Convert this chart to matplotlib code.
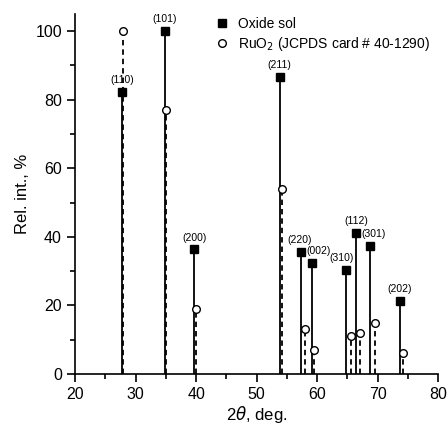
import numpy as np
import matplotlib.pyplot as plt
from matplotlib.ticker import MultipleLocator

plt.rcParams['font.family'] = ['Liberation Sans', 'DejaVu Sans']

# oxide sol peaks
sol_2theta = [27.75, 34.8, 39.7, 53.8, 57.3, 59.1, 64.8, 66.5, 68.7, 73.7]
sol_int = [82.3, 100, 36.3, 86.6, 35.6, 32.4, 30.4, 41.2, 37.3, 21.4]
hkl = ['(110)', '(101)', '(200)', '(211)', '(220)', '(002)', '(310)', '(112)', '(301)', '(202)']

# RuO2 reference, JCPDS 40-1290
ref_2theta = [28.0, 35.05, 40.05, 54.25, 58.0, 59.45, 65.55, 67.05, 69.55, 74.15]
ref_int = [100, 77, 19, 54, 13, 7, 11, 12, 15, 6]

# horizontal nudges of the hkl labels (points)
label_dx = [0, 0, 0, 0, -1, 5, -3, 0, 3, 0]


def main():
    fig = plt.figure(figsize=(4.47, 4.23), dpi=100)
    ax = fig.add_axes([0.168, 0.116, 0.812, 0.851])

    ax.vlines(sol_2theta, 0, sol_int, colors='black', linewidth=1.3)
    ax.vlines(ref_2theta, 0, ref_int, colors='black', linewidth=1.3,
              linestyles=(0, (3.0, 2.2)))
    ax.plot(sol_2theta, sol_int, 's', color='black', markersize=5.5,
            label='Oxide sol')
    ax.plot(ref_2theta, ref_int, 'o', markerfacecolor='white',
            markeredgecolor='black', markersize=5.5, markeredgewidth=1.0,
            label='RuO$_2$ (JCPDS card # 40-1290)')

    for x, y, t, dx in zip(sol_2theta, sol_int, hkl, label_dx):
        ax.annotate(t, (x, y), xytext=(dx, 5), textcoords='offset points',
                    ha='center', va='bottom', fontsize=7.5)

    ax.set_xlim(20, 80)
    ax.set_ylim(0, 105)
    ax.xaxis.set_major_locator(MultipleLocator(10))
    ax.xaxis.set_minor_locator(MultipleLocator(5))
    ax.yaxis.set_major_locator(MultipleLocator(20))
    ax.yaxis.set_minor_locator(MultipleLocator(10))
    ax.tick_params(which='major', direction='out', length=6, width=1.2,
                   labelsize=11.5)
    ax.tick_params(which='minor', direction='out', length=3.5, width=1.2)
    for s in ['top', 'right']:
        ax.spines[s].set_visible(False)
    for s in ['left', 'bottom']:
        ax.spines[s].set_linewidth(1.2)

    ax.set_xlabel(r'2$\theta$, deg.', fontsize=12, labelpad=1)
    ax.set_ylabel('Rel. int., %', fontsize=12, labelpad=4)

    ax.legend(loc='upper left', bbox_to_anchor=(0.375, 1.008), frameon=False,
              fontsize=10, handlelength=0.8, handletextpad=0.7,
              labelspacing=0.3, borderaxespad=0)

    fig.savefig('out.png', dpi=100)


if __name__ == "__main__":
    main()
